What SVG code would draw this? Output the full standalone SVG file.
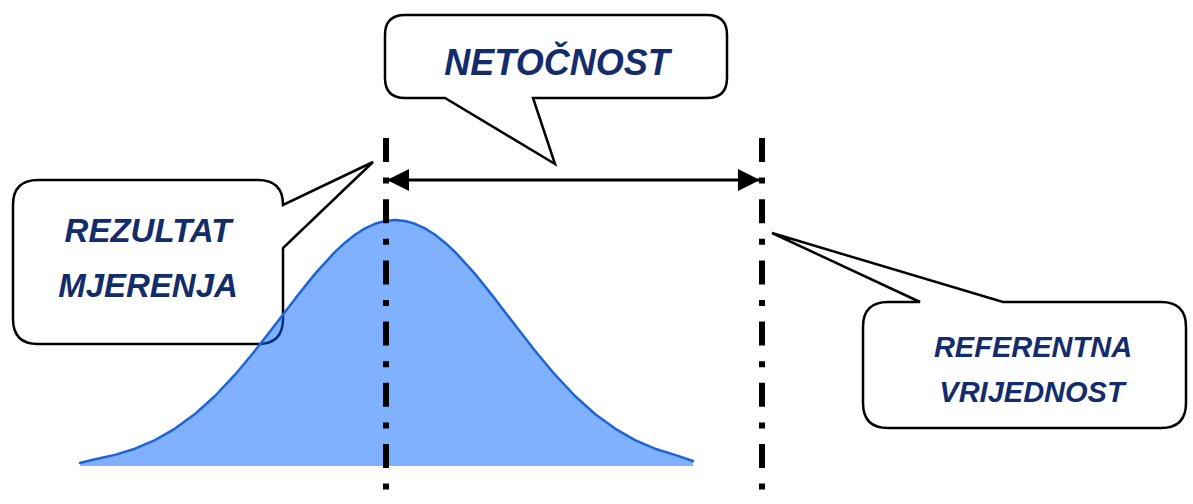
<svg xmlns="http://www.w3.org/2000/svg" width="1193" height="504" viewBox="0 0 1193 504">
<style>
.callout{fill:#ffffff;stroke:#000000;stroke-width:2.5;stroke-linejoin:miter}
.lbl{font-family:"Liberation Sans",Arial,sans-serif;font-weight:bold;font-style:italic;fill:#132C6C;text-anchor:middle}
.dash{stroke:#000000;stroke-width:6;stroke-dasharray:24 15.6 6 15.6;fill:none}
</style>
<defs>
<marker id="ah" markerUnits="userSpaceOnUse" markerWidth="22" markerHeight="24" refX="21" refY="12" orient="auto-start-reverse">
<path d="M0,1 L22,12 L0,23 Z" fill="#000000"/>
</marker>
</defs>
<rect width="1193" height="504" fill="#ffffff"/>
<g id="callout-rezultat">
<path class="callout" d="M38,180 H258 Q283,180 283,205 L373,162 L283,248 V319 Q283,344 258,344 H38 Q13,344 13,319 V205 Q13,180 38,180 Z"/>
<text class="lbl" x="148" y="242" font-size="33">REZULTAT</text>
<text class="lbl" x="148" y="297" font-size="33">MJERENJA</text>
</g>
<g id="bell">
<path d="M80,466 L80,462 L95,459.3 L115,454.9 L135,448.7 L155,440.1 L175,428.6 L195,414 L215,396 L235,374.7 L255,350.8 L275,325.1 L295,298.9 L315,273.9 L335,251.9 L345,242.7 L355,234.7 L365,228.4 L375,223.8 L385,221 L395,220 L405,221 L415,223.8 L425,228.4 L435,234.7 L445,242.7 L455,251.9 L475,273.9 L495,298.9 L515,325.1 L535,350.8 L555,374.7 L575,396 L595,414 L615,428.6 L635,440.1 L655,448.7 L675,454.9 L693,460 L693,466 Z" fill="#0064FF" fill-opacity="0.5" stroke="none"/>
<path d="M80,463 L95,459.3 L115,454.9 L135,448.7 L155,440.1 L175,428.6 L195,414 L215,396 L235,374.7 L255,350.8 L275,325.1 L295,298.9 L315,273.9 L335,251.9 L345,242.7 L355,234.7 L365,228.4 L375,223.8 L385,221 L395,220 L405,221 L415,223.8 L425,228.4 L435,234.7 L445,242.7 L455,251.9 L475,273.9 L495,298.9 L515,325.1 L535,350.8 L555,374.7 L575,396 L595,414 L615,428.6 L635,440.1 L655,448.7 L675,454.9 L693,461" fill="none" stroke="#1E64D8" stroke-width="2.5" stroke-linejoin="round" stroke-linecap="round"/>
</g>
<g id="callout-netocnost">
<path class="callout" d="M405,15 H707 Q727,15 727,35 V78 Q727,98 707,98 H533 L555,164 L445,98 H405 Q385,98 385,78 V35 Q385,15 405,15 Z"/>
<text class="lbl" x="557" y="75" font-size="36">NETOČNOST</text>
</g>
<g id="callout-referentna">
<path class="callout" d="M888,302 H920 L772,233 L1003,302 H1161 Q1186,302 1186,327 V403 Q1186,428 1161,428 H888 Q863,428 863,403 V327 Q863,302 888,302 Z"/>
<text class="lbl" x="1033" y="357" font-size="29">REFERENTNA</text>
<text class="lbl" x="1032" y="402" font-size="29">VRIJEDNOST</text>
</g>
<g id="connectors">
<line class="dash" x1="386" y1="138" x2="386" y2="504"/>
<line class="dash" x1="762" y1="138" x2="762" y2="504"/>
<line x1="388" y1="180" x2="759" y2="180" stroke="#000000" stroke-width="3" marker-start="url(#ah)" marker-end="url(#ah)"/>
</g>
</svg>
